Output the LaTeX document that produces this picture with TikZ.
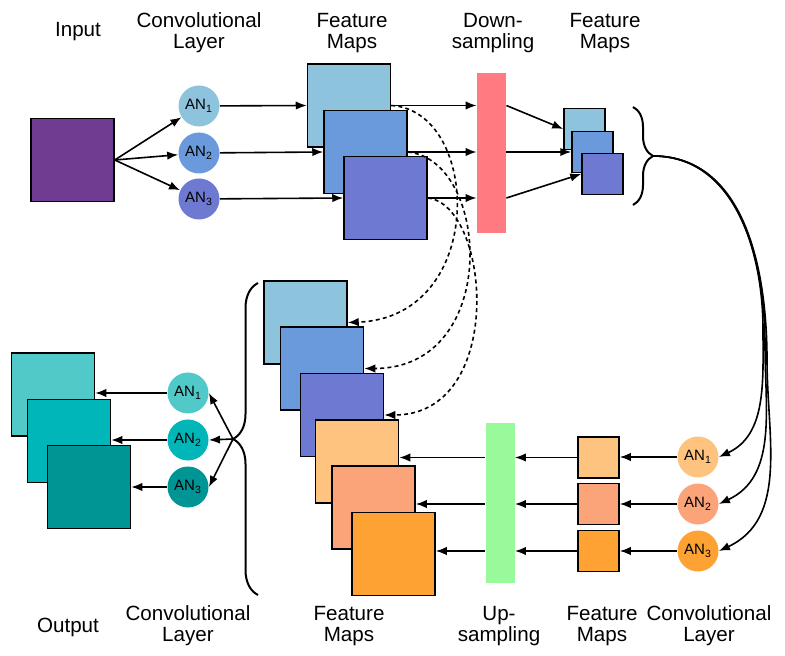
\documentclass[tikz,border=0pt]{standalone}
\usepackage{fontspec}
\setmainfont{Liberation Sans}
\usetikzlibrary{arrows.meta,decorations.pathreplacing}
\definecolor{inpurple}{HTML}{6F3C91}
\definecolor{blue1}{HTML}{8EC3DE}
\definecolor{blue2}{HTML}{6A9ADC}
\definecolor{blue3}{HTML}{6E79D1}
\definecolor{pinkbar}{HTML}{FF7B81}
\definecolor{greenbar}{HTML}{98FA9A}
\definecolor{org1}{HTML}{FEC47F}
\definecolor{org2}{HTML}{FBA47A}
\definecolor{org3}{HTML}{FDA233}
\definecolor{teal1}{HTML}{52C9C9}
\definecolor{teal2}{HTML}{00B6B8}
\definecolor{teal3}{HTML}{009595}
\begin{document}
\begin{tikzpicture}[x=0.5pt,y=-0.5pt,
  every node/.style={font=\fontsize{10.3}{10.5}\selectfont},
  lbl/.style={align=center},
  fmap/.style={draw=black,line width=0.75pt,minimum size=41.5pt,inner sep=0pt},
  smap/.style={draw=black,line width=0.75pt,minimum size=20.5pt,inner sep=0pt},
  sbar/.style={minimum width=14.5pt,minimum height=80pt,inner sep=0pt},
  neuron/.style={circle,minimum size=20.5pt,inner sep=0pt,font=\fontsize{7.5}{8}\selectfont},
  arr/.style={-{Latex[length=5.5pt,width=4.2pt]},line width=0.8pt},
  skip/.style={arr,dash pattern=on 2pt off 1.6pt},
  brc/.style={decorate,line width=1pt,decoration={brace,amplitude=#1}}]
\useasboundingbox (0,0) rectangle (785,656);

\node[lbl] (tin) at (78,32) {Input};
\node[lbl] (tconv) at (199,33) {Convolutional\\Layer};
\node[lbl] (tfm) at (352,33) {Feature\\Maps};
\node[lbl] (tdown) at (493,33) {Down-\\sampling};
\node[lbl] (tfm2) at (605,33) {Feature\\Maps};

\node[fmap,fill=inpurple] (input) at (72.5,160) {};
\node[neuron,fill=blue1] (a1) at (199,106) {AN\textsubscript{1}};
\node[neuron,fill=blue2] (a2) at (199,153) {AN\textsubscript{2}};
\node[neuron,fill=blue3] (a3) at (199,199) {AN\textsubscript{3}};
\node[fmap,fill=blue1] (fm1) at (349,105.5) {};
\node[fmap,fill=blue2] (fm2) at (365.5,152) {};
\node[fmap,fill=blue3] (fm3) at (385.5,198) {};
\node[sbar,fill=pinkbar] (down) at (491.5,153) {};
\node[smap,fill=blue1] (sm1) at (584.5,129) {};
\node[smap,fill=blue2] (sm2) at (592.5,152) {};
\node[smap,fill=blue3] (sm3) at (602.5,174) {};

\draw[arr] (input.east) -- (a1);
\draw[arr] (input.east) -- (a2);
\draw[arr] (input.east) -- (a3);
\draw[arr] (a1) -- (fm1.west);
\draw[arr] (a2) -- (fm2.west);
\draw[arr] (a3) -- (fm3.west);
\draw[arr] (fm1.east) -- (fm1.east -| down.west);
\draw[arr] (fm2.east) -- (fm2.east -| down.west);
\draw[arr] (fm3.east) -- (fm3.east -| down.west);
\draw[arr] (down.east |- fm1.east) -- (sm1.west);
\draw[arr] (down.east |- fm2.east) -- (sm2.west);
\draw[arr] (down.east |- fm3.east) -- (sm3.west);

\draw[brc=10pt] (633,107) -- (633,205);
\coordinate (rtip) at (653,156);

\node[fmap,fill=blue1] (l1) at (305.5,322.5) {};
\node[fmap,fill=blue2] (l2) at (322,368.5) {};
\node[fmap,fill=blue3] (l3) at (342,415) {};
\node[fmap,fill=org1] (l4) at (357,461.5) {};
\node[fmap,fill=org2] (l5) at (373.5,507.5) {};
\node[fmap,fill=org3] (l6) at (393.5,554) {};
\node[sbar,fill=greenbar] (up) at (500,503) {};
\node[smap,fill=org1] (sb1) at (598.5,457.5) {};
\node[smap,fill=org2] (sb2) at (598.5,504) {};
\node[smap,fill=org3] (sb3) at (598.5,551) {};
\node[neuron,fill=org1] (r1) at (698,457) {AN\textsubscript{1}};
\node[neuron,fill=org2] (r2) at (698,504) {AN\textsubscript{2}};
\node[neuron,fill=org3] (r3) at (698,551) {AN\textsubscript{3}};

\draw[skip] (fm1.east) .. controls +(90,5) and +(140,-5) .. (l1.east);
\draw[skip] (fm2.east) .. controls +(83,8) and +(137,0) .. (l2.east);
\draw[skip] (fm3.east) .. controls +(63,7) and +(122,0) .. (l3.east);

\draw[arr] (rtip) to[out=0,in=90] (763,330) to[out=-90,in=25] (r1.east);
\draw[arr] (rtip) to[out=0,in=90] (765,345) to[out=-90,in=25] (r2.east);
\draw[arr] (rtip) to[out=0,in=90] (767,360) to[out=-90,in=25] (r3.east);

\draw[arr] (r1) -- (r1 -| sb1.east);
\draw[arr] (r2) -- (r2 -| sb2.east);
\draw[arr] (r3) -- (r3 -| sb3.east);
\draw[arr] (sb1.west) -- (sb1.west -| up.east);
\draw[arr] (sb2.west) -- (sb2.west -| up.east);
\draw[arr] (sb3.west) -- (sb3.west -| up.east);
\draw[arr] (up.west |- sb1.west) -- (sb1.west -| l4.east);
\draw[arr] (up.west |- sb2.west) -- (sb2.west -| l5.east);
\draw[arr] (up.west |- sb3.west) -- (sb3.west -| l6.east);

\draw[brc=12.5pt] (258,595) -- (258,283);
\coordinate (ltip) at (233,439);

\node[fmap,fill=teal1] (o1) at (53,394.5) {};
\node[fmap,fill=teal2] (o2) at (69,441) {};
\node[fmap,fill=teal3] (o3) at (89,487) {};
\node[neuron,fill=teal1] (c1) at (188,393) {AN\textsubscript{1}};
\node[neuron,fill=teal2] (c2) at (188,440) {AN\textsubscript{2}};
\node[neuron,fill=teal3] (c3) at (188,487) {AN\textsubscript{3}};

\draw[arr] (ltip) -- (c1.east);
\draw[arr] (ltip) -- (c2.east);
\draw[arr] (ltip) -- (c3.east);
\draw[arr] (c1) -- (c1 -| o1.east);
\draw[arr] (c2) -- (c2 -| o2.east);
\draw[arr] (c3) -- (c3 -| o3.east);

\node[lbl] (bout) at (68,627) {Output};
\node[lbl] (bconv) at (188,626) {Convolutional\\Layer};
\node[lbl] (bfm) at (349,626) {Feature\\Maps};
\node[lbl] (bup) at (499,626) {Up-\\sampling};
\node[lbl] (bfm2) at (602,626) {Feature\\Maps};
\node[lbl] (bconv2) at (709,626) {Convolutional\\Layer};
\end{tikzpicture}
\end{document}
